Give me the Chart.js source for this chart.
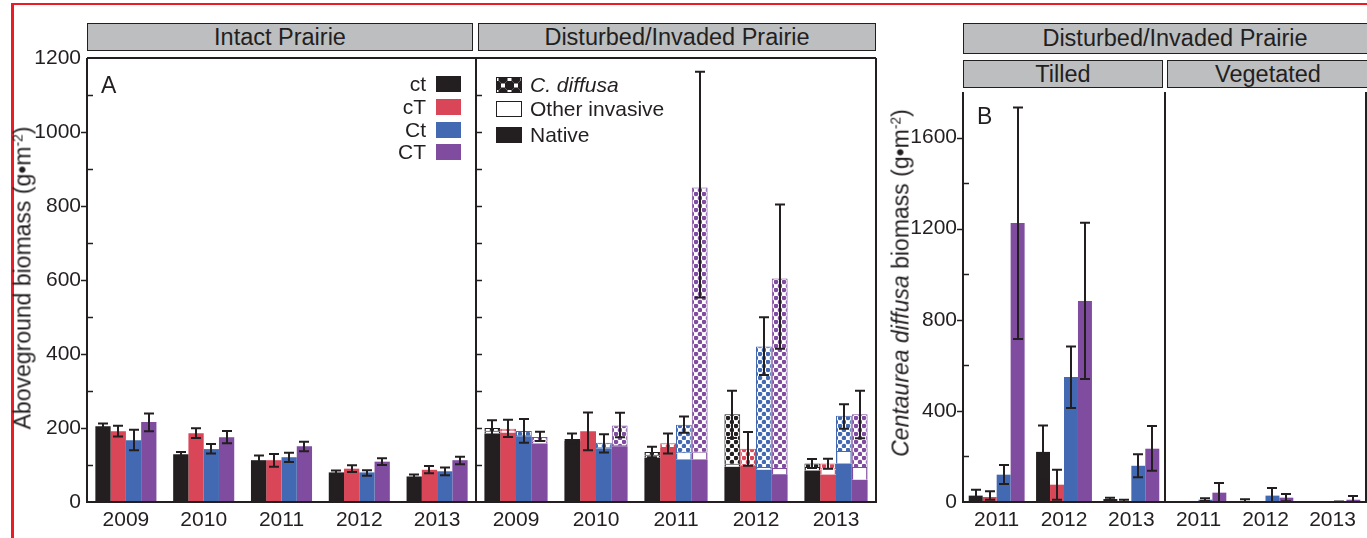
<!DOCTYPE html>
<html>
<head>
<meta charset="utf-8">
<script src="https://cdn.jsdelivr.net/npm/chart.js"></script>
<style>
body{margin:0;background:#fff;width:1367px;height:538px;overflow:hidden;position:relative;
  font-family:"Liberation Sans",Arial,Helvetica,sans-serif;color:#231f20}
.abs{position:absolute}
canvas{position:absolute;top:0}
.strip{position:absolute;box-sizing:border-box;background:#bcbec0;border:1.5px solid #231f20;
  font-size:23.5px;display:flex;align-items:center;justify-content:center;white-space:nowrap;overflow:hidden}
.ytitle{position:absolute;font-size:23px;white-space:nowrap;transform:translate(-50%,-50%) rotate(-90deg)}
.ytitle sup{font-size:0.6em;vertical-align:0.6em;line-height:0}
.row{position:absolute;display:flex;align-items:center;font-size:21px;white-space:nowrap;height:22px;line-height:22px}
.sw{width:25px;height:16px;box-sizing:border-box}
.panel{position:absolute;font-size:23px;line-height:23px}
</style>
</head>
<body>
<div class="abs" style="left:11px;top:3px;width:1356px;height:2px;background:#ed1c24"></div>
<div class="abs" style="left:11px;top:3px;width:3px;height:535px;background:#ed1c24"></div>

<div class="strip" style="left:87px;top:23px;width:386px;height:28px">Intact Prairie</div>
<div class="strip" style="left:478px;top:23px;width:398px;height:28px">Disturbed/Invaded Prairie</div>
<div class="strip" style="left:963px;top:23px;width:424px;height:31px">Disturbed/Invaded Prairie</div>
<div class="strip" style="left:963px;top:60px;width:200px;height:28px">Tilled</div>
<div class="strip" style="left:1167px;top:60px;width:202px;height:28px">Vegetated</div>

<canvas id="intact" width="478" height="538" style="left:0"></canvas>
<canvas id="disturbed" width="408" height="538" style="left:470px"></canvas>
<canvas id="tilled" width="280" height="538" style="left:890px"></canvas>
<canvas id="vegetated" width="209" height="538" style="left:1158px"></canvas>

<div class="ytitle" style="left:23px;top:278px">Aboveground biomass (g•m<sup>-2</sup>)</div>
<div class="ytitle" style="left:901px;top:283px"><i>Centaurea diffusa</i> biomass (g•m<sup>-2</sup>)</div>

<div class="panel" style="left:101px;top:74px">A</div>
<div class="panel" style="left:977px;top:105px">B</div>

<div id="legendA"></div>
<div id="legendB"></div>

<script>
// treatments and years
const treatments = ['ct', 'cT', 'Ct', 'CT'];
const yearsA = ['2009', '2010', '2011', '2012', '2013'];
const yearsB = ['2011', '2012', '2013'];
const colors = ['#231f20', '#d94657', '#4369b2', '#7f4c9f'];
const ink = '#231f20';

// intact prairie, total biomass (one row per treatment)
const intactMean = [[205, 129, 113, 80, 69], [191, 186, 113, 90, 87], [167, 143, 121, 80, 83], [216, 175, 151, 109, 113]];
const intactLow  = [[198, 123, 100, 75, 64], [177, 173, 95, 81, 78], [140, 131, 108, 71, 72], [191, 159, 137, 100, 102]];
const intactHigh = [[212, 135, 126, 85, 74], [206, 199, 130, 99, 97], [195, 157, 133, 86, 93], [239, 192, 163, 118, 122]];

// disturbed/invaded prairie, stacked parts
const distNative  = [[185, 165, 120, 95, 85], [187, 191, 146, 98, 74], [178, 145, 115, 87, 104], [158, 151, 115, 75, 60]];
const distOther   = [[5, 0, 5, 6, 7], [4, 0, 0, 0, 14], [0, 0, 17, 5, 31], [5, 0, 18, 14, 32]];
const distDiffusa = [[10, 5, 10, 136, 12], [7, 0, 13, 46, 16], [14, 15, 77, 328, 98], [13, 56, 717, 515, 145]];
const distLow  = [[179, 155, 121, 173, 92], [176, 140, 131, 98, 90], [160, 134, 187, 343, 198], [165, 175, 553, 414, 172]];
const distHigh = [[221, 185, 149, 301, 116], [222, 242, 185, 189, 117], [224, 183, 231, 499, 264], [190, 241, 1163, 804, 301]];

// C. diffusa biomass
const tilledMean = [[28, 220, 13], [22, 76, 4], [120, 549, 159], [1225, 882, 234]];
const tilledLow  = [[3, 104, 8], [10, 10, 0], [79, 413, 109], [716, 540, 137]];
const tilledHigh = [[54, 336, 19], [47, 142, 10], [162, 683, 210], [1732, 1226, 334]];
const vegMean = [[0, 2, 0], [0, 0, 0], [10, 28, 1], [41, 19, 10]];
const vegLow  = [[0, 0, 0], [0, 0, 0], [4, 0, 0], [0, 3, 0]];
const vegHigh = [[0, 12, 0], [0, 0, 0], [16, 61, 2], [83, 35, 26]];

const font = '"Liberation Sans", Arial, Helvetica, sans-serif';
Chart.defaults.font.family = font;
Chart.defaults.color = ink;

// white tile with staggered coloured dots
function dotPattern(color) {
  const c = document.createElement('canvas');
  c.width = 8; c.height = 8;
  const g = c.getContext('2d');
  g.fillStyle = '#fff';
  g.fillRect(0, 0, 8, 8);
  g.fillStyle = color;
  [[2, 2], [6, 6], [10, -2], [-2, 10], [10, 10], [-2, -2]].forEach(([x, y]) => {
    g.beginPath(); g.arc(x, y, 2.3, 0, Math.PI * 2); g.fill();
  });
  return g.createPattern(c, 'repeat');
}

const errorBars = {
  id: 'errorBars',
  afterDatasetsDraw(chart) {
    const ctx = chart.ctx, ys = chart.scales.y;
    ctx.save();
    ctx.strokeStyle = ink;
    ctx.lineWidth = 2;
    chart.data.datasets.forEach((ds, i) => {
      if (!ds.errHi) return;
      chart.getDatasetMeta(i).data.forEach((bar, j) => {
        const hi = ds.errHi[j], lo = ds.errLo[j];
        if (hi === lo) return;
        const x = Math.round(bar.x);
        const y1 = ys.getPixelForValue(hi), y2 = ys.getPixelForValue(lo);
        ctx.beginPath();
        ctx.moveTo(x, y1); ctx.lineTo(x, y2);
        ctx.moveTo(x - 5, y1); ctx.lineTo(x + 5, y1);
        ctx.moveTo(x - 5, y2); ctx.lineTo(x + 5, y2);
        ctx.stroke();
      });
    });
    ctx.restore();
  }
};

// box lines + little tick marks, drawn by hand so they can point in or out
function frame(sides, majorStep, majorDir, minorDir, lw) {
  return {
    id: 'frame',
    afterDraw(chart) {
      const ctx = chart.ctx, a = chart.chartArea, ys = chart.scales.y;
      ctx.save();
      ctx.strokeStyle = ink;
      ctx.lineWidth = lw;
      ctx.beginPath();
      if (sides.includes('t')) { ctx.moveTo(a.left, a.top); ctx.lineTo(a.right, a.top); }
      if (sides.includes('r')) { ctx.moveTo(a.right, a.top); ctx.lineTo(a.right, a.bottom); }
      if (sides.includes('b')) { ctx.moveTo(a.left - lw / 2, a.bottom); ctx.lineTo(a.right + lw / 2, a.bottom); }
      if (sides.includes('l')) { ctx.moveTo(a.left, a.top); ctx.lineTo(a.left, a.bottom); }
      ctx.stroke();
      ctx.lineWidth = 1.5;
      ys.ticks.forEach(t => {
        if (t.value === 0 || t.value === ys.max) return;
        const dir = t.value % majorStep === 0 ? majorDir : minorDir;
        const py = Math.round(ys.getPixelForValue(t.value)) + 0.5;
        ctx.beginPath();
        ctx.moveTo(a.left, py);
        ctx.lineTo(a.left + dir * 6, py);
        ctx.stroke();
      });
      ctx.restore();
    }
  };
}

function yAxis(max, step, labelEvery, width, showLabels) {
  return {
    min: 0, max: max,
    grid: { display: false, drawTicks: false },
    border: { display: false },
    ticks: {
      display: showLabels,
      stepSize: step,
      padding: 6,
      font: { size: 21 },
      color: ink,
      callback: v => (v % labelEvery === 0 ? v : '')
    },
    afterFit: s => { s.width = width; }
  };
}

function xAxis(stacked) {
  return {
    stacked: stacked,
    grid: { display: false, drawTicks: false },
    border: { display: false },
    ticks: { padding: 6, font: { size: 21 }, color: ink, maxRotation: 0 },
    afterFit: s => { s.height = 36; }
  };
}

function baseOptions(padTop, padRight) {
  return {
    responsive: false,
    animation: false,
    layout: { autoPadding: false, padding: { top: padTop, right: padRight, bottom: 0, left: 0 } },
    plugins: { legend: { display: false }, tooltip: { enabled: false } }
  };
}

function groupedSets(means, lows, highs) {
  return treatments.map((t, i) => ({
    label: t,
    data: means[i],
    errLo: lows[i],
    errHi: highs[i],
    backgroundColor: colors[i],
    borderWidth: 0
  }));
}

// A: intact prairie
new Chart(document.getElementById('intact'), {
  type: 'bar',
  data: { labels: yearsA, datasets: groupedSets(intactMean, intactLow, intactHigh) },
  options: Object.assign(baseOptions(58, 2), {
    datasets: { bar: { categoryPercentage: 0.785, barPercentage: 1 } },
    scales: { x: xAxis(false), y: yAxis(1200, 100, 200, 87, true) }
  }),
  plugins: [errorBars, frame('trbl', 200, -1, 1, 2)]
});

// A: disturbed prairie, stacked
const distSets = [];
treatments.forEach((t, i) => {
  distSets.push({ label: 'Native ' + t, stack: t, data: distNative[i], backgroundColor: colors[i], borderWidth: 0 });
  distSets.push({ label: 'Other invasive ' + t, stack: t, data: distOther[i], backgroundColor: '#fff',
    borderColor: colors[i], borderSkipped: false,
    borderWidth: c => (c.raw > 0 ? { left: 1.5, right: 1.5, top: 0, bottom: 0 } : 0) });
  distSets.push({ label: 'C. diffusa ' + t, stack: t, data: distDiffusa[i], backgroundColor: dotPattern(colors[i]),
    borderColor: colors[i], borderSkipped: false, borderWidth: c => (c.raw > 0 ? 1 : 0),
    errLo: distLow[i], errHi: distHigh[i] });
});

new Chart(document.getElementById('disturbed'), {
  type: 'bar',
  data: { labels: yearsA, datasets: distSets },
  options: Object.assign(baseOptions(58, 2), {
    datasets: { bar: { categoryPercentage: 0.79, barPercentage: 1 } },
    scales: { x: xAxis(true), y: Object.assign(yAxis(1200, 100, 200, 6, false), { stacked: true }) }
  }),
  plugins: [errorBars, frame('trbl', 200, 1, 1, 2)]
});

// B: C. diffusa biomass
new Chart(document.getElementById('tilled'), {
  type: 'bar',
  data: { labels: yearsB, datasets: groupedSets(tilledMean, tilledLow, tilledHigh) },
  options: Object.assign(baseOptions(92, 5), {
    datasets: { bar: { categoryPercentage: 0.83, barPercentage: 1 } },
    scales: { x: xAxis(false), y: yAxis(1800, 200, 400, 73, true) }
  }),
  plugins: [errorBars, frame('rbl', 400, -1, 1, 2)]
});

new Chart(document.getElementById('vegetated'), {
  type: 'bar',
  data: { labels: yearsB, datasets: groupedSets(vegMean, vegLow, vegHigh) },
  options: Object.assign(baseOptions(92, 1), {
    datasets: { bar: { categoryPercentage: 0.83, barPercentage: 1 } },
    scales: { x: xAxis(false), y: yAxis(1800, 200, 400, 7, false) }
  }),
  plugins: [errorBars, frame('rbl', 400, 0, 0, 2)]
});

// legends
const legA = document.getElementById('legendA');
const rowY = [84, 107, 129.5, 152];
treatments.forEach((t, i) => {
  const r = document.createElement('div');
  r.className = 'row';
  r.style.right = (1367 - 461) + 'px';
  r.style.top = (rowY[i] - 11) + 'px';
  r.innerHTML = '<span>' + t + '</span><span class="sw" style="margin-left:10px;background:' + colors[i] + '"></span>';
  legA.appendChild(r);
});

const legB = document.getElementById('legendB');
const dotIcon = 'border:1.5px solid ' + ink + ';background-color:#fff;' +
  'background-image:radial-gradient(circle,' + ink + ' 4.5px,transparent 5px),radial-gradient(circle,' + ink + ' 4.5px,transparent 5px);' +
  'background-size:13px 13px;background-position:6px 1px,-0.5px -5.5px';
const legBItems = [
  ['<i>C. diffusa</i>', dotIcon, 85],
  ['Other invasive', 'border:1.5px solid ' + ink + ';background:#fff', 109],
  ['Native', 'background:' + ink, 135]
];
legBItems.forEach(([txt, st, cy]) => {
  const r = document.createElement('div');
  r.className = 'row';
  r.style.left = '496px';
  r.style.top = (cy - 11) + 'px';
  r.innerHTML = '<span class="sw" style="width:26px;' + st + '"></span><span style="margin-left:8px">' + txt + '</span>';
  legB.appendChild(r);
});
</script>
</body>
</html>
